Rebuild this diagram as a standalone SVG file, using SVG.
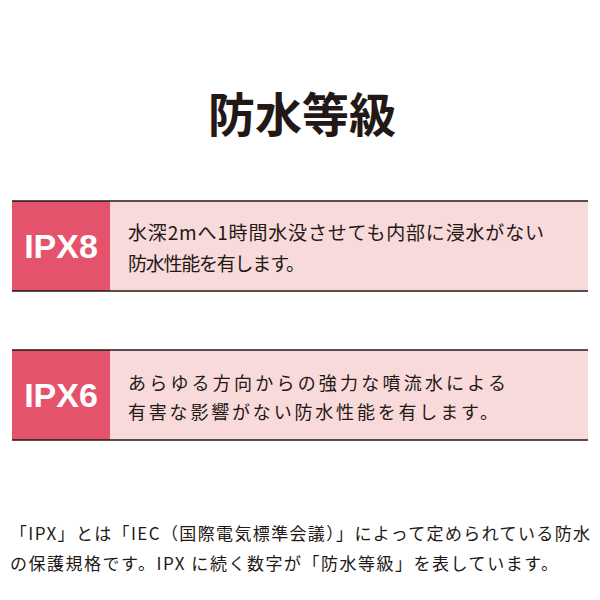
<svg xmlns="http://www.w3.org/2000/svg" width="600" height="600" viewBox="0 0 600 600">
<style>
.t{font-family:"Noto Sans CJK JP","Noto Sans",sans-serif;fill:#231815}
.lab{font-family:"Liberation Sans",Arial,sans-serif;font-weight:bold;font-size:34px;fill:#fff}
.red{fill:#e4536b}.pink{fill:#f8dada}
.ln{stroke:#231815;stroke-width:1.6}
</style>
<rect width="600" height="600" fill="#fff"/>
<text class="t" x="302" y="132" text-anchor="middle" font-size="47" font-weight="bold">防水等級</text>
<g id="ipx8">
<rect class="pink" x="12" y="201" width="576" height="90"/>
<rect class="red" x="12" y="201" width="98" height="90"/>
<line class="ln" x1="12" y1="201" x2="588" y2="201"/>
<line class="ln" x1="12" y1="291" x2="588" y2="291"/>
<text class="lab" x="61" y="258" text-anchor="middle">IPX8</text>
<text class="t" x="128" y="240" font-size="19" textLength="416">水深2mへ1時間水没させても内部に浸水がない</text>
<text class="t" x="128" y="271" font-size="19" textLength="177">防水性能を有します。</text>
</g>
<g id="ipx6">
<rect class="pink" x="12" y="350" width="576" height="90"/>
<rect class="red" x="12" y="350" width="98" height="90"/>
<line class="ln" x1="12" y1="350" x2="588" y2="350"/>
<line class="ln" x1="12" y1="440" x2="588" y2="440"/>
<text class="lab" x="61" y="407" text-anchor="middle">IPX6</text>
<text class="t" x="128" y="390" font-size="18" textLength="378">あらゆる方向からの強力な噴流水による</text>
<text class="t" x="128" y="419" font-size="18" textLength="370">有害な影響がない防水性能を有します。</text>
</g>
<text class="t" x="10" y="540" font-size="17" textLength="580">「IPX」とは「IEC（国際電気標準会議）」によって定められている防水</text>
<text class="t" x="10" y="570" font-size="17" textLength="548">の保護規格です。IPX に続く数字が「防水等級」を表しています。</text>
</svg>
